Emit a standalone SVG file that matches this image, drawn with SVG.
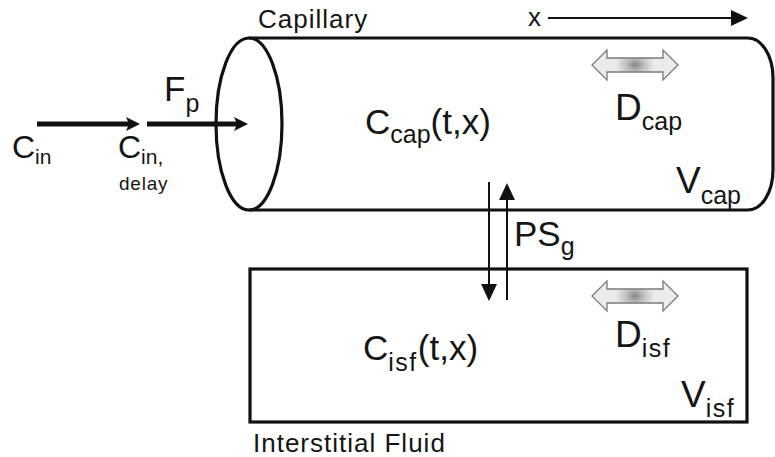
<svg xmlns="http://www.w3.org/2000/svg" width="775" height="457" viewBox="0 0 775 457">
<style>
text{font-family:"Liberation Sans",Arial,sans-serif;fill:#151515}
.big{font-size:35px}
.dv{font-size:37px}
.cin{font-size:32px}
.sub{font-size:25px}
.isf{letter-spacing:1.5px}
.lab{font-size:26px;letter-spacing:1px}
.sm{font-size:19px;letter-spacing:0.8px}
.outline{fill:none;stroke:#111;stroke-width:3.2}
.thick{stroke:#111;stroke-width:5;fill:none}
.thin{stroke:#111;stroke-width:2;fill:none}
.diff{stroke:#7a7a7a;stroke-width:1.3}
</style>
<defs>
<marker id="hThick" markerUnits="userSpaceOnUse" markerWidth="16" markerHeight="18" refX="3" refY="9" orient="auto">
<path d="M0,2 L14,9 L0,16 L3,9 Z" fill="#111"/>
</marker>
<marker id="hThin" markerUnits="userSpaceOnUse" markerWidth="18" markerHeight="18" refX="2" refY="9" orient="auto">
<path d="M0,1 L17,9 L0,17 Z" fill="#111"/>
</marker>
<radialGradient id="g1" cx="0.5" cy="0.5" r="0.5" gradientTransform="translate(0.5 0.5) scale(0.45 1) translate(-0.5 -0.5)">
<stop offset="0" stop-color="#888"/>
<stop offset="0.45" stop-color="#bdbdbd"/>
<stop offset="1" stop-color="#ebebeb"/>
</radialGradient>
<path id="darrow" d="M-43,0 L-28,-15 L-28,-7 L28,-7 L28,-15 L43,0 L28,15 L28,7 L-28,7 L-28,15 Z"/>
</defs>

<g id="capillary">
<path class="outline" d="M249,38 H748 A25 40 0 0 1 773,78 V170 A25 40 0 0 1 748,210 H249"/>
<ellipse class="outline" cx="249" cy="124" rx="33" ry="86"/>
<text class="lab" x="258" y="28">Capillary</text>
<text class="big" x="365" y="134">C<tspan class="sub" dy="9">cap</tspan><tspan dy="-9">(t,x)</tspan></text>
<use href="#darrow" x="635" y="65" fill="url(#g1)" class="diff"/>
<text class="dv" x="615" y="120">D<tspan class="sub" dy="10">cap</tspan></text>
<text class="dv" x="676" y="193">V<tspan class="sub" dy="11">cap</tspan></text>
</g>

<g id="isf">
<rect class="outline" x="250" y="269" width="497" height="153"/>
<text class="big" x="363" y="360">C<tspan class="sub isf" dy="11">isf</tspan><tspan dy="-11">(t,x)</tspan></text>
<use href="#darrow" x="635" y="296" fill="url(#g1)" class="diff"/>
<text class="dv" x="615" y="347">D<tspan class="sub isf" dy="10">isf</tspan></text>
<text class="dv" x="681" y="407">V<tspan class="sub isf" dy="10">isf</tspan></text>
<text class="lab" x="253" y="452">Interstitial Fluid</text>
</g>

<g id="inflow">
<text class="cin" x="12" y="158">C<tspan class="sub" dy="6" style="font-size:21px">in</tspan></text>
<text class="cin" x="118" y="158">C<tspan class="sub" dy="6" style="font-size:21px">in,</tspan></text>
<text class="sm" x="119" y="190">delay</text>
<text class="big" x="164" y="101">F<tspan class="sub" dy="11">p</tspan></text>
</g>

<g id="exchange">
<text class="big" x="514" y="246">PS<tspan class="sub" dy="9">g</tspan></text>
</g>

<g id="connectors">
<line class="thick" x1="37" y1="124" x2="129" y2="124" marker-end="url(#hThick)"/>
<line class="thick" x1="147" y1="124" x2="237" y2="124" marker-end="url(#hThick)"/>
<line class="thin" x1="548" y1="18" x2="733" y2="18" marker-end="url(#hThin)"/>
<line class="thin" x1="489" y1="182" x2="489" y2="286" marker-end="url(#hThin)"/>
<line class="thin" x1="507" y1="300" x2="507" y2="198" marker-end="url(#hThin)"/>
<text class="lab" x="528" y="26">x</text>
</g>
</svg>
